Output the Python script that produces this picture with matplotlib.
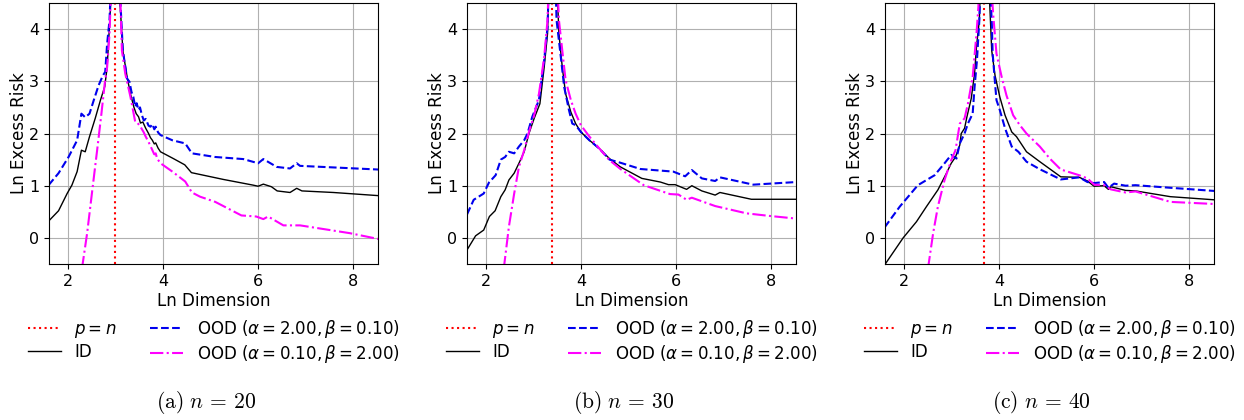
import numpy as np
import matplotlib
matplotlib.use("Agg")
import matplotlib.pyplot as plt

plt.rcParams["mathtext.fontset"] = "dejavusans"
plt.rcParams["font.size"] = 12
plt.rcParams["xtick.labelsize"] = 11.5
plt.rcParams["ytick.labelsize"] = 11.5

# sample sizes for each panel
n_values = [20, 30, 40]
captions = ["(a)", "(b)", "(c)"]

# panel (a), n = 20
a_id_x = [1.61, 1.81, 1.99, 2.09, 2.2, 2.29, 2.37, 2.46, 2.58, 2.69, 2.78, 2.83, 2.9, 3.0, 3.1, 3.16, 3.25, 3.32, 3.39, 3.44, 3.49, 3.53, 3.58, 3.64, 3.7, 3.74, 3.78, 3.82, 3.85, 3.9, 3.95, 4.22, 4.46, 4.6, 5.27, 5.9, 6.0, 6.11, 6.28, 6.4, 6.67, 6.81, 6.92, 7.58, 8.52]
a_id_y = [0.33, 0.52, 0.85, 1.01, 1.27, 1.68, 1.65, 1.94, 2.29, 2.64, 2.9, 3.27, 4.4, 7.0, 4.5, 3.59, 3.08, 2.76, 2.51, 2.38, 2.32, 2.2, 2.22, 2.1, 2.0, 1.92, 1.87, 1.8, 1.82, 1.72, 1.65, 1.52, 1.40, 1.25, 1.12, 1.01, 0.99, 1.03, 0.98, 0.9, 0.87, 0.95, 0.9, 0.87, 0.81]
a_ood1_x = [1.6, 1.81, 2.02, 2.2, 2.29, 2.37, 2.46, 2.55, 2.65, 2.74, 2.79, 2.83, 2.88, 3.0, 3.11, 3.16, 3.25, 3.3, 3.34, 3.38, 3.42, 3.45, 3.49, 3.52, 3.56, 3.6, 3.64, 3.7, 3.74, 3.78, 3.82, 3.85, 3.9, 3.95, 4.2, 4.47, 4.61, 5.1, 5.69, 6.0, 6.11, 6.39, 6.67, 6.81, 6.88, 8.52]
a_ood1_y = [1.01, 1.24, 1.55, 1.87, 2.38, 2.31, 2.38, 2.64, 2.92, 3.11, 3.18, 3.72, 4.17, 7.0, 4.5, 3.59, 3.05, 2.99, 2.8, 2.7, 2.51, 2.58, 2.45, 2.5, 2.35, 2.25, 2.28, 2.15, 2.13, 2.18, 2.08, 2.13, 2.02, 1.97, 1.87, 1.81, 1.62, 1.55, 1.51, 1.43, 1.51, 1.36, 1.33, 1.43, 1.38, 1.31]
a_ood2_x = [2.3, 2.41, 2.51, 2.62, 2.71, 2.78, 2.83, 2.88, 3.0, 3.11, 3.14, 3.21, 3.32, 3.42, 3.47, 3.53, 3.6, 3.64, 3.72, 3.78, 3.82, 3.85, 3.88, 3.95, 4.2, 4.47, 4.61, 4.78, 5.1, 5.65, 5.96, 6.11, 6.21, 6.53, 6.88, 7.93, 8.52]
a_ood2_y = [-0.6, 0.09, 0.85, 1.68, 2.38, 2.96, 3.27, 3.91, 7.0, 4.5, 3.59, 3.15, 2.7, 2.22, 2.2, 2.13, 2.02, 1.94, 1.8, 1.68, 1.6, 1.62, 1.52, 1.43, 1.27, 1.08, 0.87, 0.79, 0.69, 0.43, 0.41, 0.36, 0.41, 0.24, 0.24, 0.09, -0.02]

# panel (b), n = 30
b_id_x = [1.61, 1.79, 1.96, 2.08, 2.2, 2.32, 2.41, 2.49, 2.6, 2.7, 2.81, 2.91, 3.02, 3.14, 3.23, 3.3, 3.4, 3.54, 3.61, 3.68, 3.79, 3.89, 4.0, 4.18, 4.39, 4.6, 4.83, 5.28, 5.67, 5.84, 5.98, 6.22, 6.33, 6.54, 6.82, 6.92, 7.58, 8.52]
b_id_y = [-0.23, 0.04, 0.15, 0.41, 0.52, 0.79, 0.92, 1.11, 1.24, 1.43, 1.65, 2.0, 2.29, 2.57, 3.27, 3.91, 7.0, 3.91, 3.27, 2.76, 2.41, 2.19, 2.03, 1.87, 1.71, 1.52, 1.36, 1.14, 1.07, 1.02, 1.02, 0.93, 1.0, 0.9, 0.82, 0.87, 0.74, 0.74]
b_ood1_x = [1.61, 1.75, 1.96, 2.07, 2.21, 2.32, 2.41, 2.49, 2.6, 2.7, 2.81, 2.88, 2.98, 3.12, 3.23, 3.3, 3.4, 3.49, 3.58, 3.65, 3.75, 3.82, 3.89, 4.0, 4.18, 4.39, 4.6, 4.83, 5.25, 5.94, 6.19, 6.33, 6.54, 6.82, 6.92, 7.62, 8.52]
b_ood1_y = [0.45, 0.73, 0.85, 1.06, 1.2, 1.5, 1.55, 1.65, 1.62, 1.75, 1.87, 2.0, 2.32, 2.64, 3.4, 4.04, 7.0, 4.17, 3.46, 2.89, 2.45, 2.19, 2.16, 2.03, 1.87, 1.71, 1.5, 1.44, 1.32, 1.27, 1.18, 1.3, 1.14, 1.09, 1.16, 1.02, 1.07]
b_ood2_x = [2.38, 2.49, 2.6, 2.7, 2.81, 2.91, 3.02, 3.12, 3.23, 3.3, 3.4, 3.54, 3.61, 3.68, 3.79, 3.89, 4.0, 4.18, 4.39, 4.6, 4.83, 5.32, 5.87, 6.05, 6.22, 6.33, 6.82, 7.48, 7.97, 8.52]
b_ood2_y = [-0.6, 0.22, 0.85, 1.36, 1.68, 2.03, 2.35, 2.76, 3.46, 4.17, 7.0, 4.17, 3.59, 3.02, 2.64, 2.38, 2.16, 1.94, 1.71, 1.49, 1.32, 1.01, 0.84, 0.83, 0.73, 0.77, 0.61, 0.47, 0.42, 0.37]

# panel (c), n = 40
c_id_x = [1.6, 1.99, 2.27, 2.48, 2.72, 2.9, 3.0, 3.09, 3.18, 3.21, 3.28, 3.33, 3.42, 3.49, 3.53, 3.59, 3.69, 3.85, 3.92, 4.02, 4.13, 4.27, 4.37, 4.58, 4.86, 5.3, 5.69, 5.86, 6.0, 6.21, 6.3, 6.35, 6.66, 6.87, 7.6, 8.52]
c_id_y = [-0.52, 0.0, 0.31, 0.6, 0.92, 1.24, 1.43, 1.55, 1.78, 2.0, 2.1, 2.32, 2.67, 3.15, 3.66, 4.17, 7.0, 3.59, 3.11, 2.7, 2.35, 2.03, 1.94, 1.65, 1.46, 1.17, 1.16, 1.09, 0.99, 1.0, 0.93, 0.98, 0.91, 0.9, 0.79, 0.73]
c_ood1_x = [1.6, 1.92, 2.3, 2.65, 2.86, 3.0, 3.11, 3.18, 3.28, 3.35, 3.45, 3.49, 3.54, 3.59, 3.69, 3.85, 3.87, 3.92, 3.95, 4.02, 4.13, 4.27, 4.41, 4.58, 4.85, 5.3, 5.69, 5.86, 6.0, 6.21, 6.3, 6.42, 6.66, 6.87, 7.6, 8.52]
c_ood1_y = [0.2, 0.6, 1.01, 1.2, 1.43, 1.59, 1.52, 1.81, 2.0, 2.19, 2.38, 2.89, 3.4, 4.17, 7.0, 4.17, 3.53, 2.96, 2.64, 2.45, 2.1, 1.75, 1.65, 1.46, 1.32, 1.12, 1.16, 1.07, 1.05, 1.07, 0.96, 1.04, 1.0, 1.01, 0.96, 0.9]
c_ood2_x = [2.51, 2.62, 2.72, 2.86, 3.0, 3.09, 3.18, 3.28, 3.35, 3.45, 3.53, 3.57, 3.69, 3.88, 3.95, 4.06, 4.16, 4.3, 4.44, 4.58, 4.86, 5.07, 5.3, 5.69, 5.86, 6.0, 6.21, 6.35, 6.66, 6.87, 7.6, 8.52]
c_ood2_y = [-0.6, 0.09, 0.6, 1.11, 1.49, 1.68, 2.19, 2.29, 2.57, 3.08, 3.91, 4.42, 7.0, 4.29, 3.53, 3.08, 2.73, 2.35, 2.16, 2.0, 1.75, 1.52, 1.31, 1.2, 1.14, 1.02, 1.01, 0.93, 0.87, 0.89, 0.69, 0.65]

panels = [
    (a_id_x, a_id_y, a_ood1_x, a_ood1_y, a_ood2_x, a_ood2_y),
    (b_id_x, b_id_y, b_ood1_x, b_ood1_y, b_ood2_x, b_ood2_y),
    (c_id_x, c_id_y, c_ood1_x, c_ood1_y, c_ood2_x, c_ood2_y),
]

fig = plt.figure(figsize=(12.44, 4.2), dpi=100)
lefts = [49, 467, 885]
caption_x = [206, 624, 1041]

for i in range(3):
    idx, idy, o1x, o1y, o2x, o2y = panels[i]
    n = n_values[i]
    ax = fig.add_axes([lefts[i] / 1244, 1 - 264 / 420, 329 / 1244, 261 / 420])
    ax.axvline(np.log(n), color="red", linestyle=":", linewidth=1.5, label="$p=n$")
    ax.plot(idx, idy, color="black", linewidth=1.0, label="ID")
    ax.plot(o1x, o1y, color="#0000ee", linestyle="--", linewidth=1.5,
            label=r"OOD ($\alpha=2.00, \beta=0.10$)")
    ax.plot(o2x, o2y, color="magenta", linestyle="-.", linewidth=1.5,
            label=r"OOD ($\alpha=0.10, \beta=2.00$)")
    ax.set_xlim(np.log(5), np.log(5000))
    ax.set_ylim(-0.5, 4.5)
    ax.set_xticks([2, 4, 6, 8])
    ax.set_yticks([0, 1, 2, 3, 4])
    ax.grid(True, color="#b0b0b0", linewidth=0.8)
    ax.set_xlabel("Ln Dimension", labelpad=2)
    ax.set_ylabel("Ln Excess Risk", labelpad=1)
    ax.legend(loc="upper center", bbox_to_anchor=(0.5, -0.148), ncol=2,
              frameon=False, labelspacing=0.18)
    fig.text(caption_x[i] / 1244, 1 - 403 / 420,
             r"$\mathrm{%s}\ n\,=\,%d$" % (captions[i], n),
             ha="center", va="center", fontsize=15.5, math_fontfamily="cm")

fig.savefig("out.png", dpi=100)
